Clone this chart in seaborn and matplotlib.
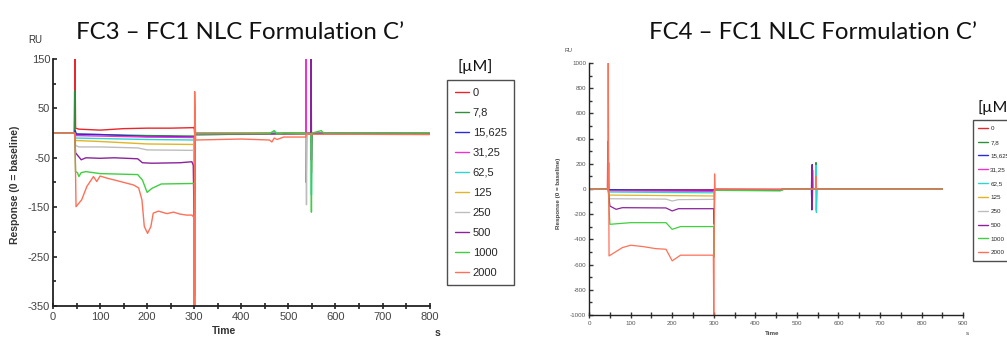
import pandas as pd
import seaborn as sns
from matplotlib import pyplot as plt
from matplotlib.ticker import MultipleLocator

# concentrations in µM (legend labels) and their colours
concs = ['0', '7,8', '15,625', '31,25', '62,5', '125', '250', '500', '1000', '2000']
colors = ['#e8262c', '#2f8f3c', '#2a2ad8', '#f22fd0', '#2fd6d0',
          '#e3b425', '#bdbdbd', '#8a229c', '#3fcf3f', '#ff7058']

# FC3 - FC1 sensorgrams, (time s, response RU)
fc3_0 = [(0, 0), (46, 0), (47, 150), (48, 10), (55, 8), (100, 6), (150, 9), (200, 10),
         (250, 10), (299, 11), (300, 12), (301, 0), (460, 0), (537, 0), (537.5, 150),
         (538, 0), (800, 0)]
fc3_7_8 = [(0, 0), (45, 0), (46, 85), (47, -2), (100, -3), (200, -5), (300, -6),
           (301, -330), (302, -2), (460, -1), (800, -1)]
fc3_15625 = [(0, 0), (46, 0), (47, 5), (50, -2), (100, -3), (150, -5), (200, -7),
             (250, -7), (300, -8), (302, -3), (548, -1), (548.5, 150), (549, -20),
             (550, 0), (800, -1)]
fc3_3125 = [(0, 0), (46, 0), (48, -5), (100, -6), (200, -8), (300, -9), (302, -2),
            (537, -1), (537.5, 150), (538, -100), (539, -1), (800, -1)]
fc3_625 = [(0, 0), (46, 0), (48, -10), (100, -11), (200, -13), (300, -14), (302, -2),
           (460, -1), (470, 3), (480, -1), (548, -1), (549, -125), (550, 0), (800, -1)]
fc3_125 = [(0, 0), (46, 0), (48, -15), (100, -17), (200, -22), (300, -23), (301, -350),
           (302, -3), (800, -1)]
fc3_250 = [(0, 0), (46, 0), (48, -25), (55, -28), (100, -28), (180, -30), (200, -34),
           (300, -35), (302, -3), (538, -1), (538.5, -145), (539, -1), (549, -1),
           (549.5, -80), (550, -1), (800, -1)]
fc3_500 = [(0, 0), (46, 0), (48, -40), (60, -54), (70, -50), (100, -51), (130, -50),
           (180, -52), (190, -60), (210, -61), (270, -60), (295, -58), (298, -65),
           (300, -190), (302, -3), (548, -1), (548.5, 150), (549, -55), (550, -1), (800, -1)]
fc3_1000 = [(0, 0), (46, 0), (48, -78), (52, -80), (55, -88), (60, -80), (70, -78),
            (100, -82), (180, -84), (190, -95), (200, -120), (210, -112), (230, -103),
            (300, -102), (301, -350), (302, -2), (460, -1), (470, 5), (476, -2), (490, 0),
            (548, -1), (549, -160), (550, 0), (570, 5), (575, 0), (800, 0)]
fc3_2000 = [(0, 0), (46, 0), (47, -20), (49, -149), (61, -135), (72, -108), (86, -88),
            (93, -98), (100, -87), (114, -91), (143, -98), (171, -105), (182, -111),
            (189, -135), (194, -189), (201, -203), (208, -189), (213, -162), (224, -158),
            (242, -163), (256, -160), (270, -164), (284, -166), (295, -166), (299, -170),
            (300, -350), (301, 84), (303, -14), (400, -12), (460, -14), (465, -18),
            (470, -10), (476, -13), (490, -8), (537, -8), (538, -2), (800, -3)]

# FC4 - FC1 sensorgrams
fc4_0 = [(0, 0), (44, 0), (45, 380), (46, -5), (100, -5), (300, -5), (301, 0), (460, -3),
         (470, 0), (545, 0), (546, 100), (547, 0), (850, 0)]
fc4_7_8 = [(0, 0), (46, 0), (47, 210), (48, -10), (300, -12), (301, -5), (460, -10),
           (470, 0), (545, 0), (546, 210), (547, -170), (548, 0), (850, 0)]
fc4_15625 = [(0, 0), (46, 0), (48, -5), (100, -8), (300, -10), (302, -5), (460, -5),
             (470, 0), (535, 0), (536, -166), (537, 195), (538, 0), (850, 0)]
fc4_3125 = [(0, 0), (46, 0), (48, -15), (300, -18), (302, -5), (460, -5), (470, 0),
            (537, 0), (538, 150), (539, 0), (850, 0)]
fc4_625 = [(0, 0), (46, 0), (48, -24), (300, -30), (302, -8), (460, -8), (470, 0),
           (545, 0), (546, 190), (547, -187), (548, 0), (850, 0)]
fc4_125 = [(0, 0), (46, 0), (48, -48), (300, -55), (302, -8), (460, -8), (470, 0), (850, 0)]
fc4_250 = [(0, 0), (46, 0), (48, -77), (185, -80), (200, -95), (215, -84), (300, -82),
           (302, -8), (460, -8), (470, 0), (850, 0)]
fc4_500 = [(0, 0), (46, 0), (50, -135), (65, -161), (80, -148), (185, -150), (200, -174),
           (215, -156), (300, -156), (301, -280), (302, -8), (460, -8), (470, 0),
           (535, 0), (536, 190), (537, -160), (538, 0), (850, 0)]
fc4_1000 = [(0, 0), (46, 0), (50, -280), (80, -272), (100, -267), (185, -267),
            (200, -320), (220, -298), (300, -298), (301, -540), (302, -10), (460, -15),
            (470, 0), (850, 0)]
fc4_2000 = [(0, 0), (45, 0), (46, 1000), (48, -531), (80, -465), (100, -446), (130, -457),
            (160, -473), (185, -478), (200, -570), (220, -525), (298, -525), (299, -530),
            (300, -1000), (302, 120), (303, 0), (545, 0), (546, 100), (547, 0), (850, 0)]

fc3_series = [fc3_0, fc3_7_8, fc3_15625, fc3_3125, fc3_625, fc3_125, fc3_250, fc3_500, fc3_1000, fc3_2000]
fc4_series = [fc4_0, fc4_7_8, fc4_15625, fc4_3125, fc4_625, fc4_125, fc4_250, fc4_500, fc4_1000, fc4_2000]


def to_frame(series):
    rows = []
    for conc, pts in zip(concs, series):
        for t, v in pts:
            rows.append({'t': t, 'v': v, 'conc': conc})
    return pd.DataFrame(rows)


sns.set_style('ticks')
plt.rcParams['font.family'] = ['Liberation Sans', 'DejaVu Sans']
plt.rcParams['axes.unicode_minus'] = False

fig = plt.figure(figsize=(10.07, 3.4), dpi=100)
ax1 = fig.add_axes([0.0526, 0.100, 0.374, 0.7265])
ax2 = fig.add_axes([0.585, 0.0735, 0.3714, 0.741])

pal = dict(zip(concs, colors))
sns.lineplot(data=to_frame(fc3_series), x='t', y='v', hue='conc', hue_order=concs,
             palette=pal, estimator=None, sort=False, linewidth=1.0, ax=ax1)
sns.lineplot(data=to_frame(fc4_series), x='t', y='v', hue='conc', hue_order=concs,
             palette=pal, estimator=None, sort=False, linewidth=0.9, ax=ax2)

handles, labels = ax1.get_legend_handles_labels()
ax1.get_legend().remove()
ax2.get_legend().remove()


def style_axis(ax, xlim, ylim, xmaj, ymaj, fs, lw):
    ax.set_xlim(*xlim)
    ax.set_ylim(*ylim)
    ax.xaxis.set_major_locator(MultipleLocator(xmaj))
    ax.xaxis.set_minor_locator(MultipleLocator(xmaj / 2))
    ax.yaxis.set_major_locator(MultipleLocator(ymaj))
    ax.yaxis.set_minor_locator(MultipleLocator(ymaj / 2))
    ax.tick_params(which='both', direction='in', length=3, width=lw, colors='#333333',
                   labelsize=fs, pad=2)
    ax.tick_params(which='minor', length=2)
    ax.tick_params(axis='x', which='both', direction='inout', length=4)
    for s in ['top', 'right']:
        ax.spines[s].set_visible(False)
    for s in ['left', 'bottom']:
        ax.spines[s].set_linewidth(lw)
        ax.spines[s].set_color('#222222')
    ax.set_xlabel('')
    ax.set_ylabel('')


style_axis(ax1, (0, 800), (-350, 150), 100, 100, 8, 1.3)
ax1.set_yticks([150, 50, -50, -150, -250, -350])
ax1.yaxis.set_minor_locator(MultipleLocator(50))
style_axis(ax2, (0, 900), (-1000, 1000), 100, 200, 4.5, 1.0)
for lab in ax1.get_xticklabels() + ax1.get_yticklabels():
    lab.set_color('#444444')
for lab in ax2.get_xticklabels() + ax2.get_yticklabels():
    lab.set_color('#555555')

title_font = ['Lato', 'DejaVu Sans']
fig.text(0.238, 0.905, 'FC3 \u2013 FC1 NLC Formulation C\u2019', ha='center', va='center',
         fontsize=17.3, family=title_font, color='#111111')
fig.text(0.807, 0.905, 'FC4 \u2013 FC1 NLC Formulation C\u2019', ha='center', va='center',
         fontsize=17.3, family=title_font, color='#111111')

fig.text(0.028, 0.873, 'RU', fontsize=7, color='#333333')
fig.text(0.015, 0.455, 'Response (0 = baseline)', rotation=90, ha='center', va='center',
         fontsize=7.5, fontweight='bold', color='#333333')
fig.text(0.222, 0.025, 'Time', ha='center', va='center', fontsize=7.5,
         fontweight='bold', color='#333333')
fig.text(0.434, 0.02, 's', ha='center', va='center', fontsize=7.5, fontweight='bold',
         color='#333333')

fig.text(0.561, 0.847, 'RU', fontsize=4, color='#444444')
fig.text(0.555, 0.43, 'Response (0 = baseline)', rotation=90, ha='center', va='center',
         fontsize=4.5, fontweight='bold', color='#444444')
fig.text(0.767, 0.018, 'Time', ha='center', va='center', fontsize=4.5,
         fontweight='bold', color='#444444')
fig.text(0.961, 0.018, 's', ha='center', va='center', fontsize=4.5, color='#444444')

fig.text(0.4715, 0.803, '[\u00b5M]', ha='center', va='center', fontsize=11.5,
         family=title_font, color='#111111')
fig.text(0.971, 0.685, '[\u00b5M]', ha='left', va='center', fontsize=11.5,
         family=title_font, color='#111111')

leg1 = fig.legend(handles, labels, loc='upper left', bbox_to_anchor=(0.444, 0.765),
                  fontsize=8, frameon=True, fancybox=False, edgecolor='#222222',
                  handlelength=1.3, handletextpad=0.3, labelspacing=0.9,
                  borderpad=0.7, borderaxespad=0)
leg1.get_frame().set_linewidth(1.0)
leg2 = fig.legend(handles, labels, loc='upper left', bbox_to_anchor=(0.966, 0.647),
                  fontsize=4.5, frameon=True, fancybox=False, edgecolor='#222222',
                  handlelength=1.6, handletextpad=0.3, labelspacing=1.35,
                  borderpad=0.9, borderaxespad=0)
leg2.get_frame().set_linewidth(1.0)

fig.savefig('out.png', dpi=100, facecolor='white')
